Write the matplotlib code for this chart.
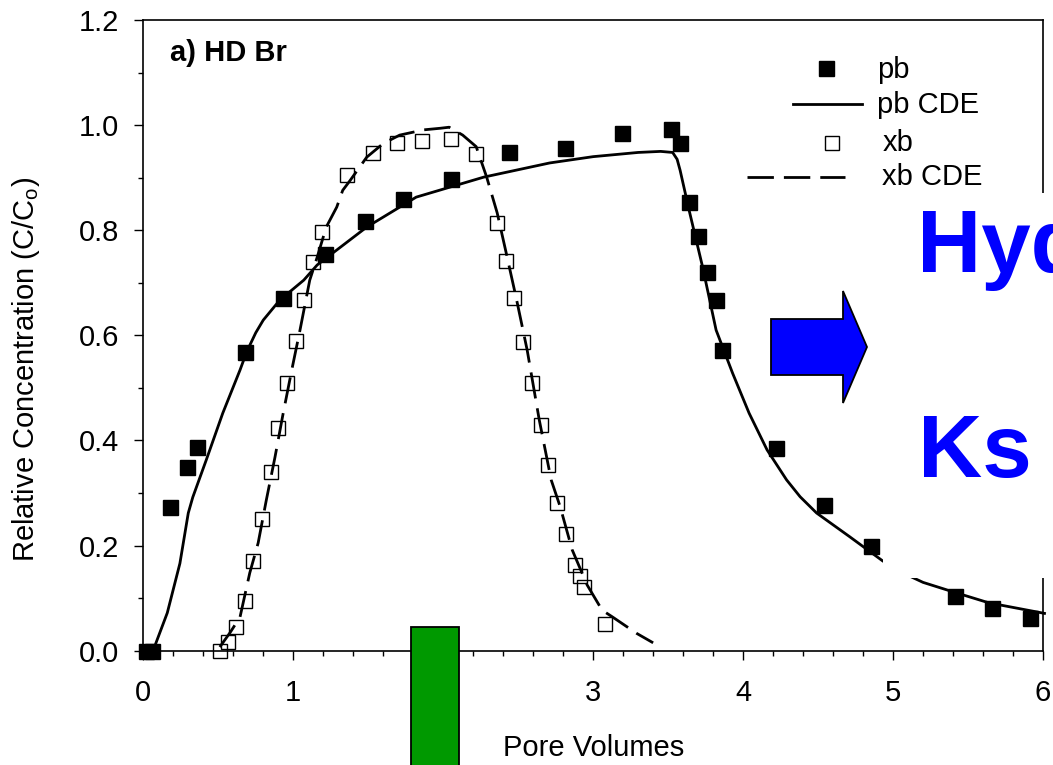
import matplotlib
matplotlib.use("Agg")
import matplotlib.pyplot as plt
from matplotlib.lines import Line2D
from matplotlib.patches import Rectangle, Polygon
from matplotlib.ticker import MultipleLocator, FormatStrFormatter

plt.rcParams['font.family'] = ['Liberation Sans', 'DejaVu Sans']
plt.rcParams['mathtext.fontset'] = 'custom'
plt.rcParams['mathtext.rm'] = 'Liberation Sans'
plt.rcParams['mathtext.it'] = 'Liberation Sans:italic'

# ---------------- data ----------------
pb_x = [0.02, 0.055, 0.18, 0.29, 0.36, 0.68, 0.93, 1.21, 1.48, 1.73, 2.05, 2.44,
        2.81, 3.19, 3.52, 3.58, 3.64, 3.70, 3.76, 3.82, 3.86, 4.22, 4.54, 4.85,
        5.41, 5.66, 5.91]
pb_y = [0.0, 0.0, 0.273, 0.349, 0.387, 0.568, 0.671, 0.754, 0.817, 0.859, 0.897, 0.949,
        0.956, 0.985, 0.993, 0.966, 0.853, 0.789, 0.720, 0.667, 0.572, 0.385, 0.277, 0.199,
        0.104, 0.081, 0.062]

pb_cde_x = [0.065, 0.16, 0.244, 0.30, 0.33, 0.42, 0.53, 0.645, 0.69, 0.75, 0.80, 0.91, 1.07,
            1.16, 1.49, 1.82, 2.27, 2.71, 3.0, 3.3, 3.45, 3.53, 3.56, 3.58, 3.64, 3.73, 3.82,
            3.93, 4.04, 4.16, 4.29, 4.38, 4.49, 4.71, 4.93, 5.05, 5.2, 5.4, 5.64, 6.01]
pb_cde_y = [0.0, 0.072, 0.166, 0.262, 0.292, 0.363, 0.452, 0.534, 0.569, 0.605, 0.629, 0.667,
            0.705, 0.734, 0.806, 0.863, 0.901, 0.928, 0.940, 0.948, 0.950, 0.948, 0.935, 0.914,
            0.838, 0.73, 0.61, 0.528, 0.452, 0.382, 0.325, 0.293, 0.262, 0.217, 0.171, 0.150,
            0.130, 0.112, 0.091, 0.071]

xb_x = [0.51, 0.565, 0.62, 0.68, 0.73, 0.79, 0.85, 0.90, 0.96, 1.02, 1.07, 1.13, 1.19,
        1.36, 1.53, 1.69, 1.86, 2.05, 2.22, 2.36, 2.42, 2.47, 2.53, 2.59, 2.65, 2.70,
        2.76, 2.82, 2.88, 2.91, 2.94, 3.08]
xb_y = [0.0, 0.017, 0.045, 0.095, 0.17, 0.25, 0.34, 0.423, 0.509, 0.589, 0.667, 0.739, 0.796,
        0.905, 0.947, 0.966, 0.970, 0.973, 0.945, 0.814, 0.741, 0.671, 0.588, 0.509, 0.429, 0.353,
        0.281, 0.222, 0.163, 0.142, 0.121, 0.051]

xb_cde_x = [0.51, 0.58, 0.645, 0.71, 0.766, 0.82, 0.878, 0.933, 0.99, 1.045, 1.11, 1.16, 1.22,
            1.29, 1.33, 1.38, 1.49, 1.60, 1.71, 1.87, 1.98, 2.04, 2.13, 2.22, 2.29, 2.36, 2.42,
            2.49, 2.56, 2.64, 2.72, 2.78, 2.86, 2.96, 3.06, 3.13, 3.29, 3.40]
xb_cde_y = [0.007, 0.035, 0.064, 0.148, 0.205, 0.286, 0.368, 0.452, 0.534, 0.61, 0.705, 0.749,
            0.806, 0.844, 0.876, 0.895, 0.939, 0.965, 0.981, 0.991, 0.994, 0.996, 0.981, 0.959,
            0.901, 0.833, 0.757, 0.667, 0.572, 0.44, 0.325, 0.274, 0.192, 0.125, 0.077, 0.064,
            0.033, 0.015]

legend_labels = ["pb", "pb CDE", "xb", "xb CDE"]
panel_title = "a) HD Br"
x_label = "Pore Volumes"
y_label = r"Relative Concentration (C/C$_\mathrm{o}$)"

# ---------------- figure ----------------
W, H = 1053, 765
fig = plt.figure(figsize=(W / 100, H / 100), dpi=100)
fig.patch.set_facecolor('white')

def fx(px):
    return px / W

def fy(py):
    return 1 - py / H

ax_l, ax_r, ax_t, ax_b = 143.3, 1043.0, 20.0, 650.7
ax = fig.add_axes([fx(ax_l), fy(ax_b), (ax_r - ax_l) / W, (ax_b - ax_t) / H])

FS = 21
lw = 2.0

ax.plot(xb_x, xb_y, linestyle='none', marker='s', markersize=10, markerfacecolor='none',
        markeredgecolor='black', markeredgewidth=1.0, clip_on=False, zorder=3)
ax.plot(pb_x, pb_y, linestyle='none', marker='s', markersize=10.8, color='black',
        clip_on=False, zorder=3)
ax.plot(pb_cde_x, pb_cde_y, color='black', linewidth=lw, clip_on=False, zorder=4)
ax.plot(xb_cde_x, xb_cde_y, color='black', linewidth=lw, dashes=(9.5, 3.6), zorder=4)

ax.set_xlim(0, 6)
ax.set_ylim(0, 1.2)
ax.xaxis.set_major_locator(MultipleLocator(1))
ax.xaxis.set_minor_locator(MultipleLocator(0.2))
ax.yaxis.set_major_locator(MultipleLocator(0.2))
ax.yaxis.set_minor_locator(MultipleLocator(0.1))
ax.xaxis.set_major_formatter(FormatStrFormatter('%d'))
ax.yaxis.set_major_formatter(FormatStrFormatter('%.1f'))
ax.tick_params(which='major', direction='out', length=6.5, width=1.0, labelsize=FS, pad=11,
               top=False, right=False)
ax.tick_params(axis='x', which='major', pad=14)
ax.tick_params(which='minor', direction='out', length=3.6, width=1.0, top=False, right=False)
for s in ax.spines.values():
    s.set_linewidth(1.2)

fig.text(fx(170), fy(53), panel_title, fontsize=FS, fontweight='bold', ha='left', va='center')
fig.text(fx(594), fy(748), x_label, fontsize=FS, ha='center', va='center')
fig.text(fx(26), fy(369), y_label, fontsize=FS, ha='center', va='center', rotation=90)

# ---------------- legend (manual, SigmaPlot style) ----------------
leg = [
    dict(kind='marker', mx=826, y=68, tx=877, ty=70),
    dict(kind='line', x0=793, x1=862, y=104, tx=877, ty=105),
    dict(kind='omarker', mx=832, y=143, tx=883, ty=143),
    dict(kind='dash', x0=747, x1=845, y=177, tx=882, ty=177),
]
for e, lab in zip(leg, legend_labels):
    if e['kind'] == 'marker':
        fig.add_artist(Line2D([fx(e['mx'])], [fy(e['y'])], marker='s', markersize=10.8,
                              color='black', linestyle='none', transform=fig.transFigure))
    elif e['kind'] == 'omarker':
        fig.add_artist(Line2D([fx(e['mx'])], [fy(e['y'])], marker='s', markersize=10,
                              markerfacecolor='none', markeredgecolor='black',
                              markeredgewidth=1.0, linestyle='none', transform=fig.transFigure))
    elif e['kind'] == 'line':
        fig.add_artist(Line2D([fx(e['x0']), fx(e['x1'])], [fy(e['y'])] * 2, color='black',
                              linewidth=lw, transform=fig.transFigure))
    else:
        fig.add_artist(Line2D([fx(e['x0']), fx(e['x1'])], [fy(e['y'])] * 2, color='black',
                              linewidth=lw, dashes=(9.5, 3.6), transform=fig.transFigure))
    fig.text(fx(e['tx']), fy(e['ty']), lab, fontsize=FS, ha='left', va='center')

# ---------------- slide overlays ----------------
fig.add_artist(Rectangle((fx(883), fy(578)), fx(W + 5) - fx(883), fy(193) - fy(578),
                         transform=fig.transFigure, facecolor='white', edgecolor='none',
                         zorder=5))
fig.text(fx(917), fy(272), "Hyd", fontsize=64, fontweight='bold', color='#0000ff',
         ha='left', va='baseline', zorder=6)
fig.text(fx(918), fy(477), "Ks", fontsize=64, fontweight='bold', color='#0000ff',
         ha='left', va='baseline', zorder=6)

arrow_px = [(771, 319), (843, 319), (843, 291), (867, 347), (843, 403), (843, 375), (771, 375)]
fig.add_artist(Polygon([(fx(px), fy(py)) for px, py in arrow_px], closed=True,
                       transform=fig.transFigure, facecolor='#0000ff', edgecolor='black',
                       linewidth=1.3, zorder=6))
fig.add_artist(Rectangle((fx(411), fy(780)), fx(459) - fx(411), fy(627) - fy(780),
                         transform=fig.transFigure, facecolor='#009900', edgecolor='black',
                         linewidth=1.3, zorder=6))

fig.savefig("out.png", dpi=100)
